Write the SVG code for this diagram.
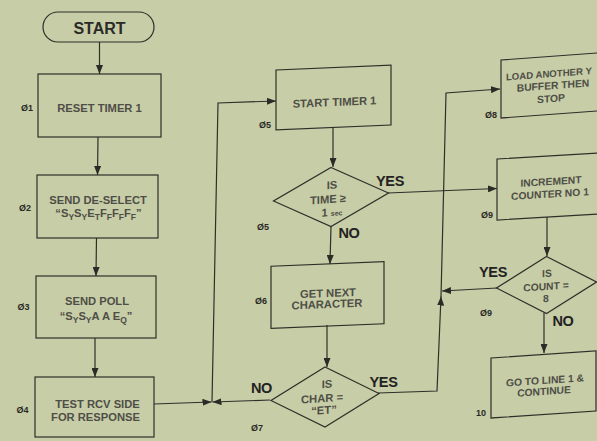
<svg xmlns="http://www.w3.org/2000/svg" width="597" height="441" viewBox="0 0 597 441">
<style>
.bg{fill:#c7cda6}
.s{fill:none;stroke:#2f2f2a;stroke-width:1.2}
.c{fill:none;stroke:#2f2f2a;stroke-width:1.2}
.t{font-family:"Liberation Sans",Arial,sans-serif;font-size:11.2px;font-weight:bold;fill:#4e4e46;text-anchor:middle}
.tr{font-family:"Liberation Sans",Arial,sans-serif;font-size:10.3px;font-weight:bold;fill:#4e4e46;text-anchor:middle}
.sub{font-size:8.5px}
.small{font-size:7px}
.title{font-family:"Liberation Sans",Arial,sans-serif;font-size:16px;font-weight:bold;fill:#2a2a26;text-anchor:middle}
.lab{font-family:"Liberation Sans",Arial,sans-serif;font-size:9px;font-weight:bold;fill:#2a2a26;text-anchor:middle}
.yn{font-family:"Liberation Sans",Arial,sans-serif;font-size:14.5px;font-weight:bold;fill:#222;text-anchor:middle;letter-spacing:-0.3px}
</style>
<defs>
<marker id="ah" markerWidth="9" markerHeight="7" refX="9" refY="3.5" orient="auto" markerUnits="userSpaceOnUse">
<path d="M0,0 L9,3.5 L0,7 z" fill="#2a2a26"/>
</marker>
</defs>
<rect class="bg" x="0" y="0" width="597" height="441"/>

<g id="connectors">
<path class="c" d="M99.5,42 L99.5,74" marker-end="url(#ah)"/>
<path class="c" d="M98,137 L97.5,175" marker-end="url(#ah)"/>
<path class="c" d="M96.5,238 L96,276" marker-end="url(#ah)"/>
<path class="c" d="M95,338 L95,377" marker-end="url(#ah)"/>
<path class="c" d="M154,404 L211.5,402" marker-end="url(#ah)"/>
<path class="c" d="M270,400 L212.5,402" marker-end="url(#ah)"/>
<path class="c" d="M212,402 L218,103 L276,101" marker-end="url(#ah)"/>
<path class="c" d="M333,127 L333,167" marker-end="url(#ah)"/>
<path class="c" d="M331,226 L330,264" marker-end="url(#ah)"/>
<path class="c" d="M388,193 L497,188.5" marker-end="url(#ah)"/>
<path class="c" d="M327,325 L327,367" marker-end="url(#ah)"/>
<path class="c" d="M378,393 L437,391 L441,296.5" marker-end="url(#ah)"/>
<path class="c" d="M441,297 L446,93 L500,89" marker-end="url(#ah)"/>
<path class="c" d="M497,288 L442,291" marker-end="url(#ah)"/>
<path class="c" d="M547,217 L547,256" marker-end="url(#ah)"/>
<path class="c" d="M544,313 L544,353" marker-end="url(#ah)"/>
</g>

<g id="start">
<rect class="s" x="43" y="12" width="111" height="30" rx="15"/>
<text class="title" x="99.5" y="33.5">START</text>
</g>

<g id="n1">
<rect class="s" x="38" y="74" width="123" height="63"/>
<text class="t" x="99.5" y="112">RESET TIMER 1</text>
<text class="lab" x="27" y="111">Ø1</text>
</g>

<g id="n2">
<rect class="s" x="37" y="175" width="121" height="63"/>
<text class="t" x="98" y="204">SEND DE-SELECT</text>
<text class="t" x="98.5" y="217">“S<tspan class="sub" dy="2.5">Y</tspan><tspan dy="-2.5">S</tspan><tspan class="sub" dy="2.5">Y</tspan><tspan dy="-2.5">E</tspan><tspan class="sub" dy="2.5">T</tspan><tspan dy="-2.5">F</tspan><tspan class="sub" dy="2.5">F</tspan><tspan dy="-2.5">F</tspan><tspan class="sub" dy="2.5">F</tspan><tspan dy="-2.5">F</tspan><tspan class="sub" dy="2.5">F</tspan><tspan dy="-2.5">”</tspan></text>
<text class="lab" x="25" y="211">Ø2</text>
</g>

<g id="n3">
<rect class="s" x="36" y="276" width="120" height="62"/>
<text class="t" x="97" y="305">SEND POLL</text>
<text class="t" x="96" y="320">“S<tspan class="sub" dy="2.5">Y</tspan><tspan dy="-2.5">S</tspan><tspan class="sub" dy="2.5">Y</tspan><tspan dy="-2.5">A A E</tspan><tspan class="sub" dy="2.5">Q</tspan><tspan dy="-2.5">”</tspan></text>
<text class="lab" x="23.5" y="310">Ø3</text>
</g>

<g id="n4">
<rect class="s" x="35" y="377" width="119" height="60"/>
<text class="t" x="97.5" y="408">TEST RCV SIDE</text>
<text class="t" x="95.5" y="421">FOR RESPONSE</text>
<text class="lab" x="22.5" y="413">Ø4</text>
</g>

<g id="n5">
<g transform="matrix(1,-0.043,0,1,0,14.34)">
<rect class="s" x="276" y="67.5" width="115" height="60"/>
<text class="t" x="334.5" y="106">START TIMER 1</text>
</g>
<text class="lab" x="265" y="128">Ø5</text>
</g>

<g id="d5">
<g transform="matrix(1,-0.07,0,1,0,23.17)">
<polygon class="s" points="331,167.5 388.5,197 331,226.5 273.5,197"/>
<text class="t" x="332" y="189">IS</text>
<text class="t" x="328" y="203">TIME ≥</text>
<text class="t" x="332" y="216">1 <tspan class="small">sec</tspan></text>
</g>
<text class="lab" x="263" y="230">Ø5</text>
<text class="yn" x="390" y="186">YES</text>
<text class="yn" x="349" y="238">NO</text>
</g>

<g id="n6">
<g transform="matrix(1,-0.04,0,1,0,13.1)">
<rect class="s" x="271" y="264" width="113" height="62"/>
<text class="t" x="328" y="297">GET NEXT</text>
<text class="t" x="327" y="308">CHARACTER</text>
</g>
<text class="lab" x="261" y="304">Ø6</text>
</g>

<g id="d7">
<g transform="matrix(1,-0.065,0,1,0,21.1)">
<polygon class="s" points="325,367 379,397 325,427 271,397"/>
<text class="t" x="327" y="388">IS</text>
<text class="t" x="322" y="402">CHAR =</text>
<text class="t" x="324" y="414">“ET”</text>
</g>
<text class="lab" x="257" y="431">Ø7</text>
<text class="yn" x="261.5" y="393">NO</text>
<text class="yn" x="383.5" y="387">YES</text>
</g>

<g id="n8">
<g transform="matrix(1,-0.073,0,1,0,40.37)">
<rect class="s" x="501" y="56.2" width="104" height="58"/>
<text class="tr" x="506" y="77" style="text-anchor:start;font-size:9.6px">LOAD ANOTHER Y</text>
<text class="tr" x="553" y="89">BUFFER THEN</text>
<text class="tr" x="551" y="102">STOP</text>
</g>
<text class="lab" x="491" y="118">Ø8</text>
</g>

<g id="n9">
<g transform="matrix(1,-0.06,0,1,0,33.06)">
<rect class="s" x="497" y="155.8" width="108" height="61"/>
<text class="tr" x="551" y="185">INCREMENT</text>
<text class="tr" x="550" y="197.5">COUNTER NO 1</text>
</g>
<text class="lab" x="487" y="218">Ø9</text>
</g>

<g id="d9">
<g transform="matrix(1,-0.06,0,1,0,32.79)">
<polygon class="s" points="546.5,256.5 596.5,285 546.5,313.5 496.5,285"/>
<text class="tr" x="547" y="277">IS</text>
<text class="tr" x="546" y="290">COUNT =</text>
<text class="tr" x="546" y="302">8</text>
</g>
<text class="lab" x="486" y="316">Ø9</text>
<text class="yn" x="493" y="277">YES</text>
<text class="yn" x="563" y="326">NO</text>
</g>

<g id="n10">
<g transform="matrix(1,-0.067,0,1,0,36.41)">
<rect class="s" x="491" y="354.5" width="105" height="60"/>
<text class="tr" x="545" y="384">GO TO LINE 1 &amp;</text>
<text class="tr" x="544" y="395">CONTINUE</text>
</g>
<text class="lab" x="481" y="416">10</text>
</g>
</svg>
